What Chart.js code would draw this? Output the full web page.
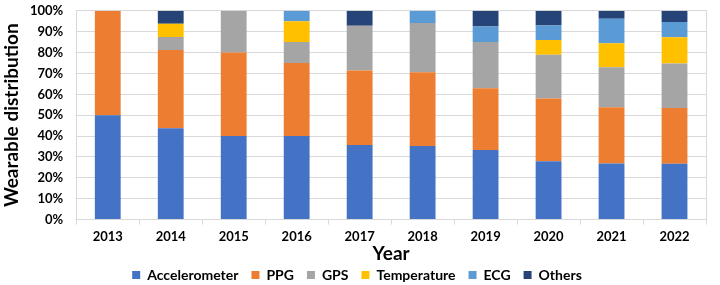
<!DOCTYPE html>
<html>
<head>
<meta charset="utf-8">
<script src="https://cdn.jsdelivr.net/npm/chart.js@4"></script>
<style>
  body { margin: 0; background: #fff; }
  #wrap { width: 720px; height: 285px; }
</style>
</head>
<body>
<div id="wrap"><canvas id="chart"></canvas></div>
<script>
// Data (percent of wearables per year)
const years = ['2013', '2014', '2015', '2016', '2017', '2018', '2019', '2020', '2021', '2022'];
const accelerometer = [50, 43.75, 40, 40, 35.7, 35.3, 33.3, 28, 26.9, 26.7];
const ppg = [50, 37.5, 40, 35, 35.7, 35.3, 29.6, 30, 26.9, 26.7];
const gps = [0, 6.25, 20, 10, 21.4, 23.5, 22.2, 21, 19.2, 21.4];
const temperature = [0, 6.25, 0, 10, 0, 0, 0, 7, 11.5, 12.5];
const ecg = [0, 0, 0, 5, 0, 5.9, 7.4, 7, 11.7, 7.3];
const others = [0, 6.25, 0, 0, 7.2, 0, 7.5, 7, 3.8, 5.4];
const yTicks = [0, 10, 20, 30, 40, 50, 60, 70, 80, 90, 100];

const font = 'Lato, "Open Sans", sans-serif';

function makeSet(label, data, color) {
    return {
        label: label,
        data: data,
        backgroundColor: color,
        borderWidth: 0,
        barPercentage: 0.41,
        categoryPercentage: 1
    };
}

window.addEventListener('load', () => {
    new Chart(document.getElementById('chart'), {
        type: 'bar',
        data: {
            labels: years,
            datasets: [
                makeSet('Accelerometer', accelerometer, '#4472C4'),
                makeSet('PPG', ppg, '#ED7D31'),
                makeSet('GPS', gps, '#A5A5A5'),
                makeSet('Temperature', temperature, '#FFC000'),
                makeSet('ECG', ecg, '#5B9BD5'),
                makeSet('Others', others, '#264478')
            ]
        },
        options: {
            responsive: true,
            maintainAspectRatio: false,
            animation: false,
            layout: { padding: { top: 2, right: 6, left: 0, bottom: -2 } },
            plugins: {
                tooltip: { enabled: false },
                legend: {
                    position: 'bottom',
                    maxHeight: 32,
                    labels: {
                        color: '#000',
                        font: { family: font, size: 14, weight: 'bold' },
                        boxWidth: 8,
                        boxHeight: 8,
                        padding: 13
                    }
                }
            },
            scales: {
                x: {
                    stacked: true,
                    grid: { drawOnChartArea: false, drawTicks: true, tickLength: 5, color: '#d9d9d9' },
                    border: { color: '#d9d9d9' },
                    ticks: { color: '#000', font: { family: font, size: 13, weight: 'bold' }, padding: 4 },
                    title: {
                        display: true,
                        text: 'Year',
                        color: '#000',
                        font: { family: font, size: 19, weight: 'bold' },
                        padding: { top: -6, bottom: -10 }
                    }
                },
                y: {
                    stacked: true,
                    min: 0,
                    max: 100,
                    afterBuildTicks: axis => { axis.ticks = yTicks.map(v => ({ value: v })); },
                    grid: { color: '#d9d9d9', drawTicks: true, tickLength: 10, tickColor: 'rgba(0,0,0,0)' },
                    border: { display: true, color: '#d9d9d9' },
                    ticks: {
                        color: '#000',
                        padding: 3,
                        font: { family: font, size: 13, weight: 'bold' },
                        callback: v => v + '%'
                    },
                    title: {
                        display: true,
                        text: 'Wearable distribution',
                        color: '#000',
                        font: { family: font, size: 19, weight: 'bold', lineHeight: 1 },
                        padding: { top: 2, bottom: 6 }
                    }
                },
                y2: {
                    position: 'right',
                    min: 0,
                    max: 100,
                    grid: { display: false },
                    border: { display: true, color: '#d9d9d9' },
                    ticks: { display: false }
                }
            }
        }
    });
});
</script>
</body>
</html>
